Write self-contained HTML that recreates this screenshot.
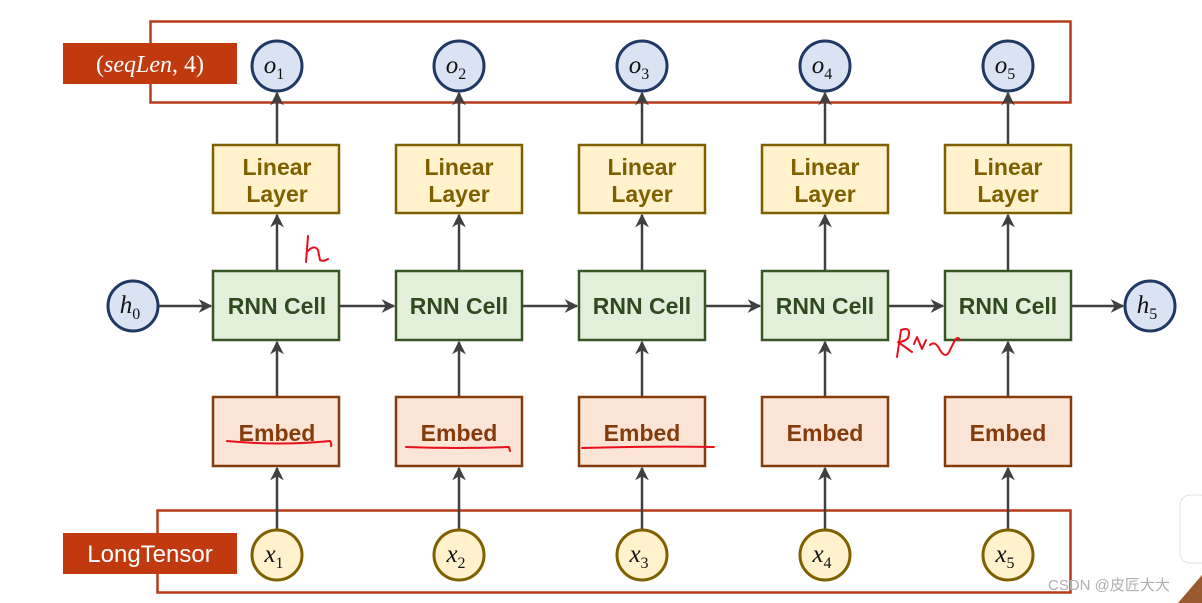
<!DOCTYPE html>
<html><head><meta charset="utf-8"><style>
html,body{margin:0;padding:0;background:#fff;}
svg{display:block;}
.b{font-family:"Liberation Sans","DejaVu Sans",sans-serif;font-weight:bold;font-size:23px;text-anchor:middle;}
.m{font-family:"Liberation Serif",serif;font-style:italic;font-size:25px;text-anchor:middle;}
.s{font-family:"Liberation Serif",serif;font-style:normal;font-size:16px;}
</style></head><body>
<svg width="1202" height="603" viewBox="0 0 1202 603" xmlns="http://www.w3.org/2000/svg">
<defs>
<marker id="a" viewBox="0 0 10 10" refX="9" refY="5" markerWidth="5.5" markerHeight="5.5" orient="auto"><path d="M0,0 L10,5 L0,10 L3,5 z" fill="#404040"/></marker>
</defs>
<rect x="150.5" y="21.5" width="920" height="81" fill="none" stroke="#b83a1a" stroke-width="2.5"/>
<rect x="157.5" y="510.5" width="913" height="82" fill="none" stroke="#b83a1a" stroke-width="2.5"/>
<rect x="63" y="43" width="174" height="41" fill="#c0390f"/>
<text x="150" y="72" fill="#fff" font-family="Liberation Serif,serif" font-size="24" text-anchor="middle">(<tspan font-style="italic">seqLen</tspan>, 4)</text>
<rect x="63" y="533" width="174" height="41" fill="#c0390f"/>
<text x="150" y="562" fill="#fff" font-family="Liberation Sans,sans-serif" font-size="24" text-anchor="middle">LongTensor</text>

<g stroke="#404040" stroke-width="2.5" fill="none">
<line x1="277" y1="530" x2="277" y2="468" marker-end="url(#a)"/><line x1="277" y1="397" x2="277" y2="342" marker-end="url(#a)"/><line x1="277" y1="271" x2="277" y2="215" marker-end="url(#a)"/><line x1="277" y1="145" x2="277" y2="93" marker-end="url(#a)"/>
<line x1="459" y1="530" x2="459" y2="468" marker-end="url(#a)"/><line x1="459" y1="397" x2="459" y2="342" marker-end="url(#a)"/><line x1="459" y1="271" x2="459" y2="215" marker-end="url(#a)"/><line x1="459" y1="145" x2="459" y2="93" marker-end="url(#a)"/>
<line x1="642" y1="530" x2="642" y2="468" marker-end="url(#a)"/><line x1="642" y1="397" x2="642" y2="342" marker-end="url(#a)"/><line x1="642" y1="271" x2="642" y2="215" marker-end="url(#a)"/><line x1="642" y1="145" x2="642" y2="93" marker-end="url(#a)"/>
<line x1="825" y1="530" x2="825" y2="468" marker-end="url(#a)"/><line x1="825" y1="397" x2="825" y2="342" marker-end="url(#a)"/><line x1="825" y1="271" x2="825" y2="215" marker-end="url(#a)"/><line x1="825" y1="145" x2="825" y2="93" marker-end="url(#a)"/>
<line x1="1008" y1="530" x2="1008" y2="468" marker-end="url(#a)"/><line x1="1008" y1="397" x2="1008" y2="342" marker-end="url(#a)"/><line x1="1008" y1="271" x2="1008" y2="215" marker-end="url(#a)"/><line x1="1008" y1="145" x2="1008" y2="93" marker-end="url(#a)"/>
<line x1="158" y1="306" x2="211" y2="306" marker-end="url(#a)"/>
<line x1="339" y1="306" x2="394" y2="306" marker-end="url(#a)"/>
<line x1="521" y1="306" x2="577" y2="306" marker-end="url(#a)"/>
<line x1="704" y1="306" x2="760" y2="306" marker-end="url(#a)"/>
<line x1="887" y1="306" x2="943" y2="306" marker-end="url(#a)"/>
<line x1="1070" y1="306" x2="1123" y2="306" marker-end="url(#a)"/>
</g>

<g stroke-width="2.5">
<g fill="#fff2cc" stroke="#7f6000">
<rect x="213" y="145" width="126" height="68"/><rect x="396" y="145" width="126" height="68"/><rect x="579" y="145" width="126" height="68"/><rect x="762" y="145" width="126" height="68"/><rect x="945" y="145" width="126" height="68"/>
</g>
<g fill="#e2efda" stroke="#375623">
<rect x="213" y="271" width="126" height="69"/><rect x="396" y="271" width="126" height="69"/><rect x="579" y="271" width="126" height="69"/><rect x="762" y="271" width="126" height="69"/><rect x="945" y="271" width="126" height="69"/>
</g>
<g fill="#fce4d6" stroke="#843c0c">
<rect x="213" y="397" width="126" height="69"/><rect x="396" y="397" width="126" height="69"/><rect x="579" y="397" width="126" height="69"/><rect x="762" y="397" width="126" height="69"/><rect x="945" y="397" width="126" height="69"/>
</g>
</g>
<g stroke-width="3">
<g fill="#dae3f3" stroke="#1f3864">
<circle cx="277" cy="66" r="25"/><circle cx="459" cy="66" r="25"/><circle cx="642" cy="66" r="25"/><circle cx="825" cy="66" r="25"/><circle cx="1008" cy="66" r="25"/>
<circle cx="133" cy="306" r="25"/><circle cx="1150" cy="306" r="25"/>
</g>
<g fill="#fff2cc" stroke="#7f6000">
<circle cx="277" cy="555" r="25"/><circle cx="459" cy="555" r="25"/><circle cx="642" cy="555" r="25"/><circle cx="825" cy="555" r="25"/><circle cx="1008" cy="555" r="25"/>
</g>
</g>

<g class="b" fill="#7f6000">
<text x="277" y="175">Linear</text><text x="277" y="202">Layer</text>
<text x="459" y="175">Linear</text><text x="459" y="202">Layer</text>
<text x="642" y="175">Linear</text><text x="642" y="202">Layer</text>
<text x="825" y="175">Linear</text><text x="825" y="202">Layer</text>
<text x="1008" y="175">Linear</text><text x="1008" y="202">Layer</text>
</g>
<g class="b" fill="#2f4a1e">
<text x="277" y="314">RNN Cell</text><text x="459" y="314">RNN Cell</text><text x="642" y="314">RNN Cell</text><text x="825" y="314">RNN Cell</text><text x="1008" y="314">RNN Cell</text>
</g>
<g class="b" fill="#843c0c">
<text x="277" y="441">Embed</text><text x="459" y="441">Embed</text><text x="642" y="441">Embed</text><text x="825" y="441">Embed</text><text x="1008" y="441">Embed</text>
</g>
<g class="m" fill="#111">
<text x="274" y="73">o<tspan class="s" dy="6">1</tspan></text>
<text x="456" y="73">o<tspan class="s" dy="6">2</tspan></text>
<text x="639" y="73">o<tspan class="s" dy="6">3</tspan></text>
<text x="822" y="73">o<tspan class="s" dy="6">4</tspan></text>
<text x="1005" y="73">o<tspan class="s" dy="6">5</tspan></text>
<text x="130" y="313">h<tspan class="s" dy="6">0</tspan></text>
<text x="1147" y="313">h<tspan class="s" dy="6">5</tspan></text>
<text x="274" y="562">x<tspan class="s" dy="6">1</tspan></text>
<text x="456" y="562">x<tspan class="s" dy="6">2</tspan></text>
<text x="639" y="562">x<tspan class="s" dy="6">3</tspan></text>
<text x="822" y="562">x<tspan class="s" dy="6">4</tspan></text>
<text x="1005" y="562">x<tspan class="s" dy="6">5</tspan></text>
</g>

<g stroke="#e8101a" stroke-width="2" fill="none" stroke-linecap="round" stroke-linejoin="round">
<path d="M308,236 L306,262 M307,252 Q314,244 318,250 L320,260 Q323,262 328,259"/>
<path d="M897,357 L901,330 Q912,326 908,338 Q904,342 898,342 L912,352 M914,344 L917,337 L922,349 L926,340 M930,345 Q935,340 940,350 Q946,360 950,350 L955,340 Q958,336 960,340"/>
<path d="M227,441 Q280,446 330,441 Q332,444 331,446"/>
<path d="M406,447 Q460,449 509,447 L510,451"/>
<path d="M582,448 Q650,446 714,447"/>
</g>

<text x="1048" y="590" font-family="Liberation Sans,'Noto Sans CJK SC',sans-serif" font-size="15" fill="#b0b0b0">CSDN @皮匠大大</text>
<rect x="1180" y="495" width="30" height="68" rx="10" fill="#fff" stroke="#e0e0e0"/>
<path d="M1178,603 L1202,575 L1202,603 z" fill="#9a5a30"/>
</svg>
</body></html>
